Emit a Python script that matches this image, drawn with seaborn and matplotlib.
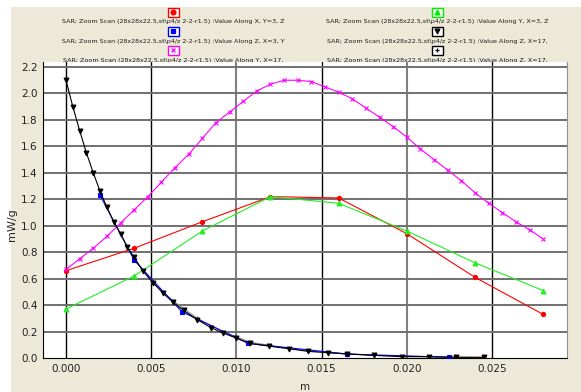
import matplotlib
matplotlib.use("Agg")
import matplotlib.pyplot as plt
from matplotlib.patches import Rectangle
from matplotlib.lines import Line2D
from matplotlib.ticker import MultipleLocator, FormatStrFormatter
import seaborn as sns
import pandas as pd

# ---------------- data ----------------
x_along_x = [0.000, 0.004, 0.008, 0.012, 0.016, 0.020, 0.024, 0.028]
y_along_x = [0.66, 0.83, 1.03, 1.22, 1.21, 0.94, 0.61, 0.33]

x_along_y = [0.000, 0.004, 0.008, 0.012, 0.016, 0.020, 0.024, 0.028]
y_along_y = [0.37, 0.62, 0.96, 1.22, 1.17, 0.96, 0.72, 0.51]

x_along_z3 = [0.0020, 0.0040, 0.0068, 0.0107, 0.0165, 0.0225]
y_along_z3 = [1.23, 0.74, 0.35, 0.11, 0.03, 0.005]

x_along_y17 = [0.0000, 0.0008, 0.0016, 0.0024, 0.0032, 0.0040, 0.0048, 0.0056, 0.0064,
               0.0072, 0.0080, 0.0088, 0.0096, 0.0104, 0.0112, 0.0120, 0.0128, 0.0136,
               0.0144, 0.0152, 0.0160, 0.0168, 0.0176, 0.0184, 0.0192, 0.0200, 0.0208,
               0.0216, 0.0224, 0.0232, 0.0240, 0.0248, 0.0256, 0.0264, 0.0272, 0.0280]
y_along_y17 = [0.67, 0.75, 0.83, 0.92, 1.02, 1.12, 1.22, 1.33, 1.44,
               1.54, 1.66, 1.78, 1.86, 1.94, 2.02, 2.07, 2.10, 2.10,
               2.09, 2.05, 2.01, 1.96, 1.89, 1.82, 1.75, 1.67, 1.58,
               1.50, 1.42, 1.34, 1.25, 1.17, 1.10, 1.03, 0.97, 0.90]

x_along_z17 = [0.0000, 0.0004, 0.0008, 0.0012, 0.0016, 0.0020, 0.0024, 0.0028, 0.0032,
               0.0036, 0.0040, 0.0045, 0.0051, 0.0057, 0.0063, 0.0069, 0.0077, 0.0085,
               0.0092, 0.0100, 0.0108, 0.0119, 0.0131, 0.0142, 0.0154, 0.0165, 0.0181,
               0.0197, 0.0213, 0.0229, 0.0245]
y_along_z17 = [2.10, 1.90, 1.72, 1.55, 1.40, 1.26, 1.14, 1.03, 0.94,
               0.84, 0.76, 0.66, 0.57, 0.49, 0.42, 0.36, 0.29, 0.23,
               0.19, 0.15, 0.11, 0.09, 0.07, 0.05, 0.04, 0.03, 0.02,
               0.01, 0.01, 0.005, 0.005]

x_along_z17b = [0.0040, 0.0051, 0.0063, 0.0077, 0.0092, 0.0108, 0.0131, 0.0154, 0.0181, 0.0213, 0.0245]
y_along_z17b = [0.75, 0.57, 0.43, 0.30, 0.20, 0.12, 0.07, 0.04, 0.02, 0.01, 0.005]

legend_labels = [
    "SAR; Zoom Scan (28x28x22.5,st\\p4/z 2-2-r1.5) :Value Along X, Y=3, Z",
    "SAR; Zoom Scan (28x28x22.5,st\\p4/z 2-2-r1.5) :Value Along Y, X=3, Z",
    "SAR; Zoom Scan (28x28x22.5,st\\p4/z 2-2-r1.5) :Value Along Z, X=3, Y",
    "SAR; Zoom Scan (28x28x22.5,st\\p4/z 2-2-r1.5) :Value Along Z, X=17,",
    "SAR; Zoom Scan (28x28x22.5,st\\p4/z 2-2-r1.5) :Value Along Y, X=17,",
    "SAR; Zoom Scan (28x28x22.5,st\\p4/z 2-2-r1.5) :Value Along Z, X=17,",
]

x_ticks = [0.000, 0.005, 0.010, 0.015, 0.020, 0.025]
x_label = "m"
y_label = "mW/g"

# ---------------- style ----------------
sns.set_style("white")
plt.rcParams['font.family'] = ['DejaVu Sans']

W, H = 581, 392
fig = plt.figure(figsize=(W / 100, H / 100), dpi=100, facecolor="white")
beige = "#ECE9D8"
fig.add_artist(Rectangle((11 / W, 0), 1 - 11 / W, 1 - 7 / H, transform=fig.transFigure,
                         facecolor=beige, edgecolor="none", zorder=-10))

ax = fig.add_axes([43 / W, 1 - 358 / H, (567 - 43) / W, (358 - 62) / H])
ax.set_facecolor("white")
ax.set_zorder(1)

series = [
    (x_along_x, y_along_x, "#FF0000", "o", 3.0, "-"),
    (x_along_y, y_along_y, "#22EE22", "^", 3.5, "-"),
    (x_along_y17, y_along_y17, "#FF00FF", "x", 3.5, "-"),
    (x_along_z17b, y_along_z17b, "#888888", "+", 3.0, "-"),
    (x_along_z3, y_along_z3, "#0000FF", "s", 3.0, "-"),
    (x_along_z17, y_along_z17, "#000000", "v", 3.5, "-"),
]
for xs, ys, c, m, ms, ls in series:
    df = pd.DataFrame({"x": xs, "y": ys})
    sns.lineplot(data=df, x="x", y="y", ax=ax, color=c, marker=m, markersize=ms,
                 markeredgecolor=c, markerfacecolor=c, linewidth=0.8, linestyle=ls,
                 sort=False, estimator=None, zorder=5, markeredgewidth=0.8)

ax.set_xlim(-0.00135, 0.0294)
ax.set_ylim(0, 2.238)
ax.xaxis.set_major_locator(MultipleLocator(0.005))
ax.xaxis.set_minor_locator(MultipleLocator(0.001))
ax.yaxis.set_major_locator(MultipleLocator(0.2))
ax.yaxis.set_minor_locator(MultipleLocator(0.05))
ax.xaxis.set_major_formatter(FormatStrFormatter("%.3f"))
ax.yaxis.set_major_formatter(FormatStrFormatter("%.1f"))
ax.tick_params(axis="both", which="both", direction="in", labelsize=7.5, colors="black",
               labelcolor="#222222")
ax.tick_params(axis="both", which="major", length=5, width=0.8, pad=4)
ax.tick_params(axis="both", which="minor", length=4, width=0.8)

# grid lines
for v in x_ticks:
    col = "#808080" if abs(v - 0.010) < 1e-9 or abs(v - 0.020) < 1e-9 else "#000000"
    ax.axvline(v, color=col, linewidth=1.0 if col == "#000000" else 1.5, zorder=1)
yv = 0.2
while yv < 2.25:
    ax.axhline(yv, color="#707070", linewidth=1.4, zorder=1)
    yv += 0.2

ax.spines["top"].set_visible(False)
ax.spines["right"].set_color("#909090")
ax.spines["left"].set_color("#000000")
ax.spines["bottom"].set_color("#000000")

ax.set_xlabel(x_label, fontsize=7.5, labelpad=6)
ax.set_ylabel(y_label, fontsize=8, labelpad=2)
ax.yaxis.set_label_coords(-0.05, 0.45)

# legend (markers above texts, two columns)
colors = ["#FF0000", "#00EE00", "#0000FF", "#000000", "#FF00FF", "#000000"]
markers = ["o", "^", "s", "v", "x", "+"]
col_x = [173, 437]
row_box = [12, 31, 50]
row_txt = [22, 41.5, 60.5]
for i, lab in enumerate(legend_labels):
    r, c = divmod(i, 2)
    cx = col_x[c]
    by = row_box[r]
    fig.add_artist(Rectangle(((cx - 5.5) / W, 1 - (by + 4.5) / H), 11 / W, 9 / H,
                             transform=fig.transFigure, facecolor="white",
                             edgecolor=colors[i], linewidth=1.0, zorder=-1))
    fig.add_artist(Line2D([cx / W], [1 - by / H], transform=fig.transFigure,
                          marker=markers[i], color=colors[i], markersize=3.5,
                          markeredgewidth=0.9, linestyle="none", zorder=-1))
    fig.text(cx / W, 1 - row_txt[r] / H, lab, ha="center", va="center",
             fontsize=4.6, color="#1a1a1a", zorder=-1)

fig.savefig("out.png", dpi=100, facecolor=fig.get_facecolor())
